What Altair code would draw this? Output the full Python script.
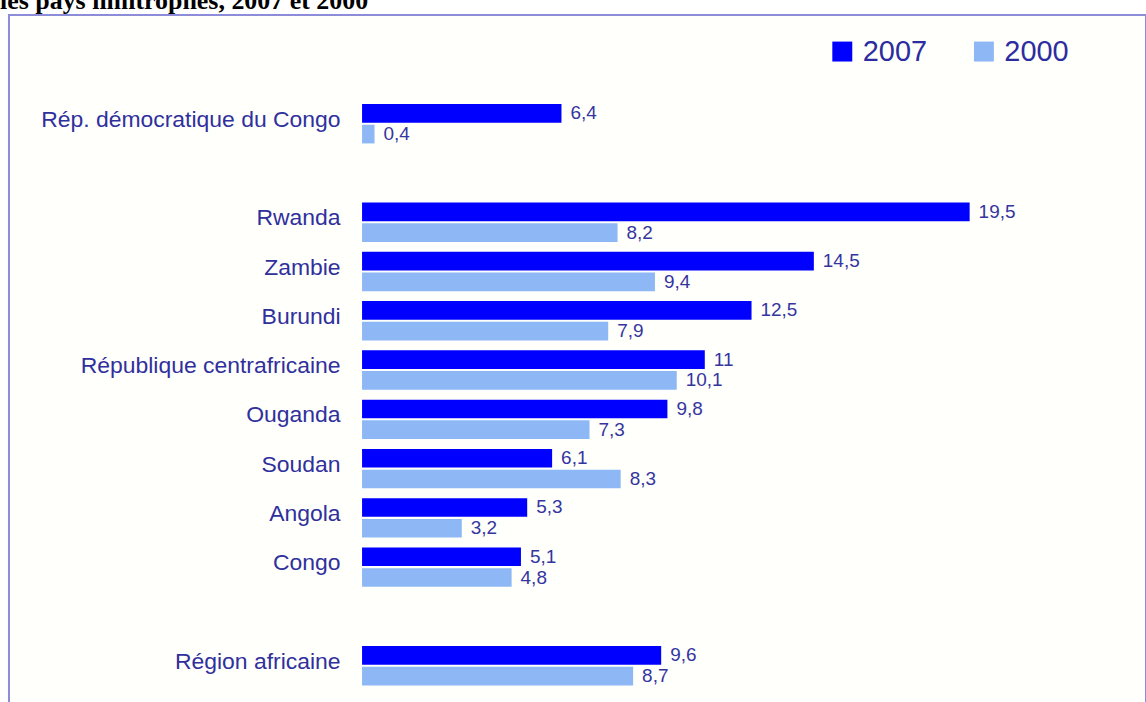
import altair as alt
import pandas as pd

# --- data ---
countries = [
    "Rép. démocratique du Congo",
    "Rwanda",
    "Zambie",
    "Burundi",
    "République centrafricaine",
    "Ouganda",
    "Soudan",
    "Angola",
    "Congo",
    "Région africaine",
]
values_2007 = [6.4, 19.5, 14.5, 12.5, 11, 9.8, 6.1, 5.3, 5.1, 9.6]
values_2000 = [0.4, 8.2, 9.4, 7.9, 10.1, 7.3, 8.3, 3.2, 4.8, 8.7]
years = ["2007", "2000"]

# category order on the axis, with two empty spacer rows
axis_order = [
    "Rép. démocratique du Congo",
    " ",
    "Rwanda",
    "Zambie",
    "Burundi",
    "République centrafricaine",
    "Ouganda",
    "Soudan",
    "Angola",
    "Congo",
    "  ",
    "Région africaine",
]

rows = []
for c, a, b in zip(countries, values_2007, values_2000):
    rows.append({"pays": c, "annee": "2007", "valeur": a})
    rows.append({"pays": c, "annee": "2000", "valeur": b})
df = pd.DataFrame(rows)

label_color = "#30309c"

base = alt.Chart(df).transform_calculate(
    label="replace(toString(datum.valeur), '.', ',')"
).encode(
    y=alt.Y(
        "pays:N",
        scale=alt.Scale(domain=axis_order, range=[84.4, 677.2],
                        paddingInner=0.2, paddingOuter=0.1),
        axis=alt.Axis(title=None, offset=-354, labelPadding=22, ticks=False,
                      domain=False, grid=False, labelFontSize=23,
                      labelFont="Liberation Sans", labelColor=label_color,
                      labelLimit=500, labelOffset=-4),
    ),
    yOffset=alt.YOffset("annee:N", sort=years,
                        scale=alt.Scale(paddingInner=0.1, paddingOuter=0)),
)

bars = base.mark_bar().encode(
    x=alt.X("valeur:Q",
            scale=alt.Scale(domain=[0, 25], range=[354, 1135], nice=False),
            axis=None),
    color=alt.Color(
        "annee:N",
        scale=alt.Scale(domain=years, range=["#0000ff", "#8db8f5"]),
        legend=alt.Legend(
            title=None, orient="none", legendX=821, legendY=22,
            direction="horizontal", symbolType="square", symbolSize=400,
            symbolStrokeWidth=0, labelFontSize=29, labelFont="Liberation Sans",
            labelColor="#2c2ca0", labelOffset=6, columnPadding=42, padding=0,
        ),
    ),
)

texts = base.mark_text(
    align="left", baseline="middle", dx=9, font="Liberation Sans",
    fontSize=19, color="#3535a0",
).encode(
    x=alt.X("valeur:Q"),
    text="label:N",
)

chart = alt.layer(bars, texts).properties(
    width=1140,
    height=700,
    autosize="none",
    padding={"left": 9, "top": 14, "right": 0, "bottom": 0},
    title=alt.Title(
        "les pays limitrophes, 2007 et 2000", anchor="start", frame="group",
        font="Liberation Serif", fontSize=26, fontWeight="bold", color="black",
        dx=-9, dy=25, offset=5, baseline="alphabetic",
    ),
).configure_view(
    stroke="#8c8cd8", strokeWidth=2, fill="#fffffc"
)

chart.save("out.html", embed_options={"renderer": "svg", "actions": False})
